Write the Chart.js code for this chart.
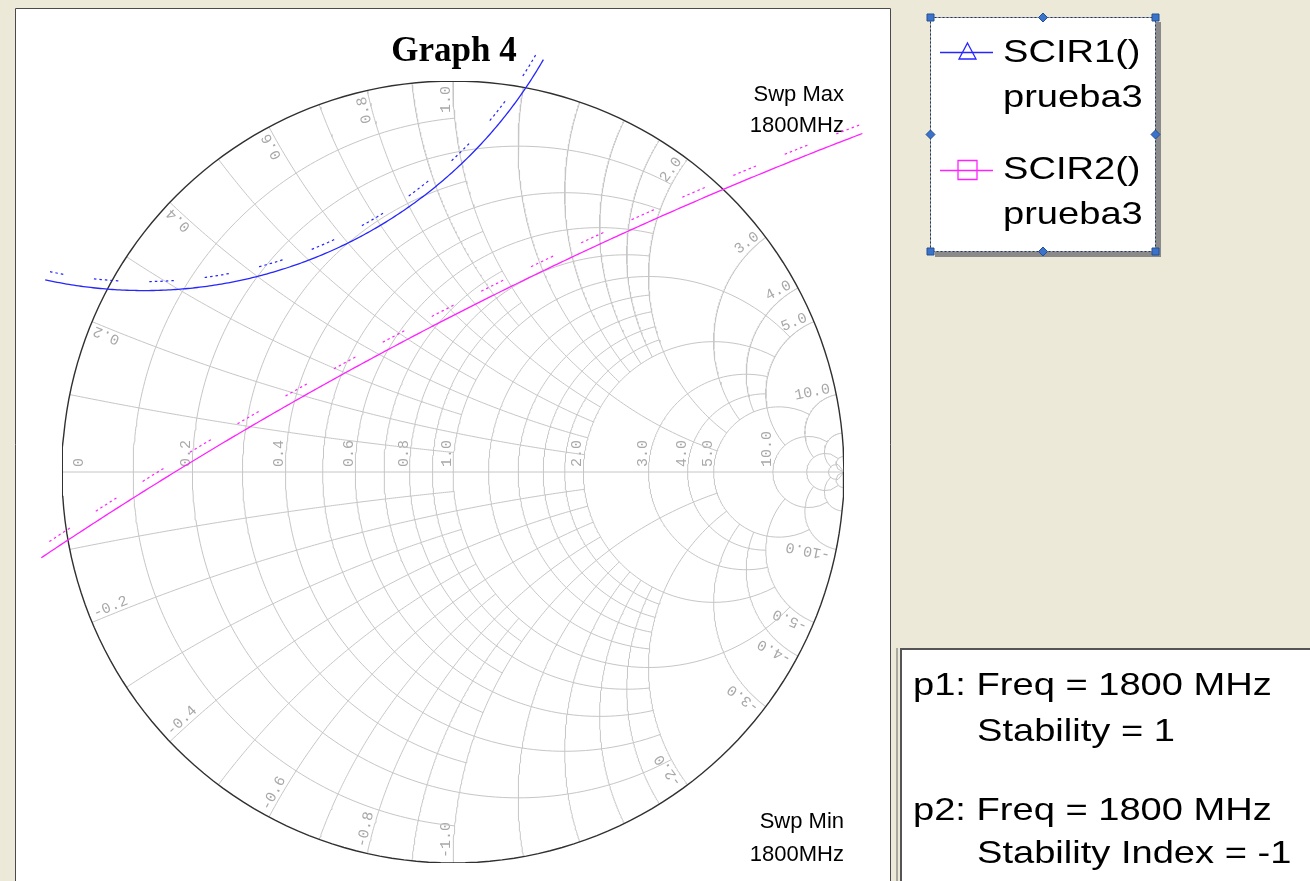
<!DOCTYPE html>
<html>
<head>
<meta charset="utf-8">
<title>Graph 4</title>
<script src="https://cdn.jsdelivr.net/npm/chart.js@4.4.1/dist/chart.umd.min.js"></script>
<style>
  html, body { margin: 0; padding: 0; background: #ece9d8; }
  #wrap { width: 1310px; height: 881px; }
</style>
</head>
<body>
<div id="wrap"><canvas id="smith" width="1310" height="881"></canvas></div>
<script>
// Smith chart grid: each value is drawn as a resistance circle (|x| <= limit)
// and as a pair of reactance arcs (r <= limit)
const gridValues = [0.1, 0.2, 0.3, 0.4, 0.5, 0.6, 0.7, 0.8, 0.9, 1.0, 1.2, 1.4, 1.6, 1.8, 2.0, 3.0, 4.0, 5.0, 10, 20, 50];
const gridLimits = [1, 2, 1, 2, 1, 2, 1, 2, 1, 5, 2, 2, 2, 2, 5, 5, 5, 10, 20, 50, Infinity];

const axisLabelValues = [0, 0.2, 0.4, 0.6, 0.8, 1.0, 2.0, 3.0, 4.0, 5.0, 10.0];
const edgeLabelValues = [0.2, 0.4, 0.6, 0.8, 1.0, 2.0, 3.0, 4.0, 5.0, 10.0,
  -0.2, -0.4, -0.6, -0.8, -1.0, -2.0, -3.0, -4.0, -5.0, -10.0];

// stability circles (reflection plane): centre, radius, visible arc
const seriesNames = ['SCIR1()', 'SCIR2()'];
const seriesDocs = ['prueba3', 'prueba3'];
const seriesColors = ['#2626ff', '#ff22ff'];
const circleCenterRe = [-0.790, 4.777];
const circleCenterIm = [1.642, -8.928];
const circleRadius = [1.178, 10.48];
const arcStartDeg = [-29.9, 110.85];
const arcEndDeg = [-102.4, 123.8];
const hatchSide = [-1, 1];   // side of the unstable region hatching

const chartTitle = 'Graph 4';
const sweepMax = ['Swp Max', '1800MHz'];
const sweepMin = ['Swp Min', '1800MHz'];
const markerText = [
  ['p1: Freq = 1800 MHz', 'Stability = 1'],
  ['p2: Freq = 1800 MHz', 'Stability Index = -1']
];

function gammaPoint(r, x) {
  const d = (r + 1) * (r + 1) + x * x;
  return { x: (r * r - 1 + x * x) / d, y: (2 * x) / d };
}

function clampTan(t) {
  return Math.tan(Math.max(-1.5707, Math.min(1.5707, t)));
}

function resistanceCircle(r, limit) {
  const pts = [];
  const tMax = Math.atan(limit);
  const n = 200;
  for (let i = 0; i <= n; i++) {
    const t = -tMax + (2 * tMax * i) / n;
    pts.push(gammaPoint(r, clampTan(t)));
  }
  return pts;
}

function reactanceArc(x, limit) {
  const pts = [];
  const tMax = Math.atan(limit);
  const n = 160;
  for (let i = 0; i <= n; i++) {
    pts.push(gammaPoint(clampTan((tMax * i) / n), x));
  }
  return pts;
}

// points run with decreasing x so chart.js does not trim them to the x range
function circleArc(cx, cy, rad, a0, a1) {
  const pts = [];
  const n = 240;
  for (let i = 0; i <= n; i++) {
    const a = (a0 + ((a1 - a0) * i) / n) * Math.PI / 180;
    pts.push({ x: cx + rad * Math.cos(a), y: cy + rad * Math.sin(a) });
  }
  return pts;
}

const datasets = [];

seriesNames.forEach((name, i) => {
  datasets.push({
    label: name,
    data: circleArc(circleCenterRe[i], circleCenterIm[i], circleRadius[i], arcStartDeg[i], arcEndDeg[i]),
    borderColor: seriesColors[i], borderWidth: 1.3, clip: false
  });
  const off = hatchSide[i] * 0.023;
  datasets.push({
    label: name + ' hatch',
    data: circleArc(circleCenterRe[i], circleCenterIm[i], circleRadius[i] + off, arcStartDeg[i], arcEndDeg[i]),
    borderColor: seriesColors[i], borderWidth: 1.2,
    borderDash: [2.5, 3, 2.5, 3, 2.5, 3, 2.5, 3, 2.5, 31], clip: false
  });
});

// outer circle
datasets.push({ label: 'r0', data: resistanceCircle(0, Infinity), borderColor: '#303030', borderWidth: 1.4 });

gridValues.forEach((v, i) => {
  const lim = gridLimits[i];
  datasets.push({ label: 'r' + v, data: resistanceCircle(v, lim), borderColor: '#c6c6c6', borderWidth: 1 });
  datasets.push({ label: 'x' + v, data: reactanceArc(v, lim), borderColor: '#c6c6c6', borderWidth: 1 });
  datasets.push({ label: 'x-' + v, data: reactanceArc(-v, lim), borderColor: '#c6c6c6', borderWidth: 1 });
});
datasets.push({ label: 'x0', data: [{ x: -1, y: 0 }, { x: 1, y: 0 }], borderColor: '#c6c6c6', borderWidth: 1 });

function stretchText(ctx, text, x, y, sx, align) {
  ctx.save();
  ctx.translate(x, y);
  ctx.scale(sx, 1);
  ctx.textAlign = align || 'left';
  ctx.fillText(text, 0, 0);
  ctx.restore();
}

function handle(ctx, x, y, diamond) {
  ctx.save();
  ctx.fillStyle = '#3b72cc';
  ctx.strokeStyle = '#24508f';
  ctx.lineWidth = 1;
  ctx.beginPath();
  if (diamond) {
    ctx.moveTo(x, y - 4.5); ctx.lineTo(x + 4.5, y); ctx.lineTo(x, y + 4.5); ctx.lineTo(x - 4.5, y);
    ctx.closePath();
  } else {
    ctx.rect(x - 3.5, y - 3.5, 7, 7);
  }
  ctx.fill();
  ctx.stroke();
  ctx.restore();
}

const framePlugin = {
  id: 'frame',
  beforeDraw(chart) {
    const ctx = chart.ctx;
    ctx.save();
    ctx.fillStyle = '#ece9d8';
    ctx.fillRect(0, 0, chart.width, chart.height);

    // plot panel
    ctx.fillStyle = '#ffffff';
    ctx.fillRect(15, 8, 876, 873);
    ctx.strokeStyle = '#4a4a4a';
    ctx.lineWidth = 1;
    ctx.beginPath();
    ctx.moveTo(15.5, 881); ctx.lineTo(15.5, 8.5); ctx.lineTo(890.5, 8.5); ctx.lineTo(890.5, 881);
    ctx.stroke();

    // title and sweep notes
    ctx.fillStyle = '#000';
    ctx.font = 'bold 35px "Liberation Serif", "Times New Roman", serif';
    ctx.textAlign = 'center';
    ctx.textBaseline = 'alphabetic';
    ctx.fillText(chartTitle, 454, 61);
    ctx.font = '22px "Liberation Sans", Arial, sans-serif';
    ctx.textAlign = 'right';
    ctx.fillText(sweepMax[0], 844, 101);
    ctx.fillText(sweepMax[1], 844, 132);
    ctx.fillText(sweepMin[0], 844, 828);
    ctx.fillText(sweepMin[1], 844, 861);

    // legend box
    ctx.fillStyle = '#8a8a8a';
    ctx.fillRect(935, 22, 226, 235);
    ctx.fillStyle = '#ffffff';
    ctx.fillRect(930, 17, 225, 234);
    ctx.strokeStyle = '#8fa6d6';
    ctx.strokeRect(930.5, 17.5, 225, 234);
    ctx.strokeStyle = '#333';
    ctx.setLineDash([2, 2]);
    ctx.strokeRect(930.5, 17.5, 225, 234);
    ctx.setLineDash([]);

    const symY = [52.5, 170.5];
    const nameY = [62, 179];
    const docY = [107, 224];
    seriesNames.forEach((name, i) => {
      ctx.strokeStyle = seriesColors[i];
      ctx.lineWidth = 1.3;
      ctx.beginPath();
      ctx.moveTo(940, symY[i]); ctx.lineTo(993, symY[i]);
      ctx.stroke();
      ctx.beginPath();
      if (i === 0) {
        ctx.moveTo(967.5, 43); ctx.lineTo(976, 59); ctx.lineTo(959, 59); ctx.closePath();
      } else {
        ctx.rect(958, 160.5, 19, 19);
      }
      ctx.stroke();
      ctx.fillStyle = '#000';
      ctx.font = '32px "Liberation Sans", Arial, sans-serif';
      stretchText(ctx, name, 1003, nameY[i], 1.19);
      stretchText(ctx, seriesDocs[i], 1003, docY[i], 1.19);
    });
    handle(ctx, 930.5, 17.5); handle(ctx, 1155.5, 17.5); handle(ctx, 930.5, 251.5); handle(ctx, 1155.5, 251.5);
    handle(ctx, 1043, 17.5, true); handle(ctx, 1043, 251.5, true);
    handle(ctx, 930.5, 134.5, true); handle(ctx, 1155.5, 134.5, true);

    // marker readout panel
    ctx.fillStyle = '#a8a8a0';
    ctx.fillRect(896, 648, 2, 233);
    ctx.fillStyle = '#ffffff';
    ctx.fillRect(900, 648, 410, 233);
    ctx.strokeStyle = '#555';
    ctx.lineWidth = 2;
    ctx.beginPath();
    ctx.moveTo(901, 881); ctx.lineTo(901, 649); ctx.lineTo(1310, 649);
    ctx.stroke();
    ctx.fillStyle = '#000';
    ctx.font = '32px "Liberation Sans", Arial, sans-serif';
    stretchText(ctx, markerText[0][0], 913, 695, 1.19);
    stretchText(ctx, markerText[0][1], 977, 741, 1.19);
    stretchText(ctx, markerText[1][0], 913, 820, 1.19);
    stretchText(ctx, markerText[1][1], 977, 863, 1.19);
    ctx.restore();
  },
  beforeDatasetsDraw(chart) {
    const ctx = chart.ctx;
    const sx = chart.scales.x, sy = chart.scales.y;
    const cx = sx.getPixelForValue(0), cy = sy.getPixelForValue(0);
    ctx.save();
    ctx.fillStyle = '#a8a8a8';
    ctx.font = '15px "Liberation Mono", "Courier New", monospace';
    ctx.textBaseline = 'alphabetic';

    axisLabelValues.forEach(v => {
      const g = gammaPoint(v, 0);
      const px = sx.getPixelForValue(g.x);
      ctx.save();
      ctx.translate(px, cy - 5);
      ctx.rotate(-Math.PI / 2);
      ctx.textAlign = 'left';
      if (v === 0) {
        ctx.textBaseline = 'top';
        ctx.fillText('0', 0, 10);
      } else {
        ctx.fillText(v.toFixed(1), 0, -2);
      }
      ctx.restore();
    });

    edgeLabelValues.forEach(v => {
      const g = gammaPoint(0, v);
      const ex = sx.getPixelForValue(g.x), ey = sy.getPixelForValue(g.y);
      let ox = ex - cx, oy = ey - cy;
      const len = Math.hypot(ox, oy);
      ox /= len; oy /= len;
      ctx.save();
      ctx.translate(ex - ox * 5, ey - oy * 5);
      if (v > 0) {
        ctx.rotate(Math.atan2(oy, ox));
        ctx.textAlign = 'right';
      } else {
        ctx.rotate(Math.atan2(-oy, -ox));
        ctx.textAlign = 'left';
      }
      ctx.fillText(v.toFixed(1), 0, -3);
      ctx.restore();
    });
    ctx.restore();
  }
};

new Chart(document.getElementById('smith'), {
  type: 'scatter',
  data: { datasets: datasets.map(d => Object.assign({ showLine: true, pointRadius: 0, pointHitRadius: 0, fill: false, tension: 0 }, d)) },
  options: {
    responsive: false,
    animation: false,
    devicePixelRatio: 1,
    events: [],
    layout: { padding: { left: 62, right: 466, top: 81, bottom: 18 } },
    scales: {
      x: { type: 'linear', min: -1, max: 1, display: false },
      y: { type: 'linear', min: -1, max: 1, display: false }
    },
    plugins: { legend: { display: false }, tooltip: { enabled: false } }
  },
  plugins: [framePlugin]
});
</script>
</body>
</html>
